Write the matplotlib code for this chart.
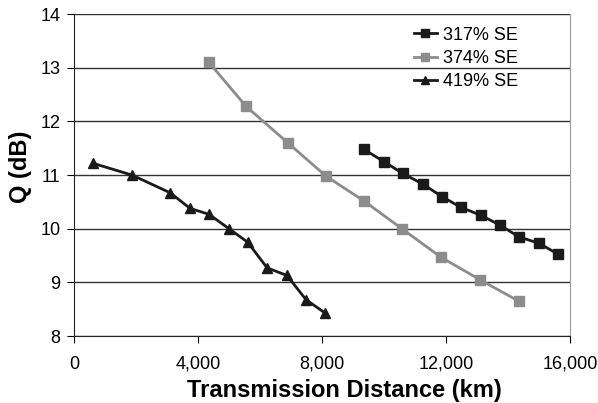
# Q versus transmission distance for three spectral efficiencies
import numpy as np
import matplotlib
matplotlib.use('Agg')
import matplotlib.pyplot as plt

plt.rcParams['font.family'] = ['Liberation Sans', 'DejaVu Sans']

# data
dist_317 = [9350, 10000, 10610, 11260, 11870, 12480, 13130, 13740, 14350, 15000, 15610]
q_317 = [11.48, 11.25, 11.03, 10.83, 10.60, 10.40, 10.25, 10.07, 9.85, 9.73, 9.53]

dist_374 = [4350, 5550, 6900, 8130, 9350, 10580, 11840, 13100, 14350]
q_374 = [13.10, 12.28, 11.60, 10.98, 10.52, 10.00, 9.47, 9.05, 8.65]

dist_419 = [610, 1870, 3100, 3740, 4350, 5000, 5600, 6230, 6870, 7480, 8100]
q_419 = [11.22, 11.00, 10.67, 10.38, 10.27, 10.00, 9.75, 9.27, 9.13, 8.68, 8.43]

xticks = [0, 4000, 8000, 12000, 16000]
xticklabels = ['0', '4,000', '8,000', '12,000', '16,000']
yticks = [8, 9, 10, 11, 12, 13, 14]

fig = plt.figure(figsize=(5.98, 4.03), dpi=100)
ax = fig.add_axes([0.124, 0.166, 0.829, 0.799])

ax.plot(dist_317, q_317, color='#1a1a1a', marker='s', markersize=7, lw=2, label='317% SE', zorder=3)
ax.plot(dist_374, q_374, color='#8c8c8c', marker='s', markersize=7, lw=2, label='374% SE', zorder=3)
ax.plot(dist_419, q_419, color='#1a1a1a', marker='^', markersize=7, lw=2, label='419% SE', zorder=3)

ax.set_xlim(0, 16000)
ax.set_ylim(8, 14)
ax.set_xticks(xticks)
ax.set_xticklabels(xticklabels)
ax.set_yticks(yticks)
ax.yaxis.grid(True, color='#333333', lw=1)
ax.set_axisbelow(True)

ax.spines['top'].set_visible(False)
ax.spines['right'].set_color('#999999')
ax.spines['left'].set_color('#222222')
ax.spines['bottom'].set_color('#222222')
ax.tick_params(axis='x', direction='out', length=5, labelsize=13, pad=9)
ax.tick_params(axis='y', direction='out', length=5, labelsize=13, pad=5)

ax.set_xlabel('Transmission Distance (km)', fontsize=17, fontweight='bold')
ax.xaxis.set_label_coords(0.546, -0.134)
ax.set_ylabel('Q (dB)', fontsize=17, fontweight='bold')
ax.yaxis.set_label_coords(-0.085, 0.525)

leg = ax.legend(loc='upper left', bbox_to_anchor=(0.663, 0.995), frameon=False, fontsize=13,
                handlelength=1.3, handletextpad=0.3, labelspacing=0.35, borderaxespad=0.2,
                markerscale=0.9)
leg.set_zorder(5)

fig.savefig('out.png', dpi=100)
